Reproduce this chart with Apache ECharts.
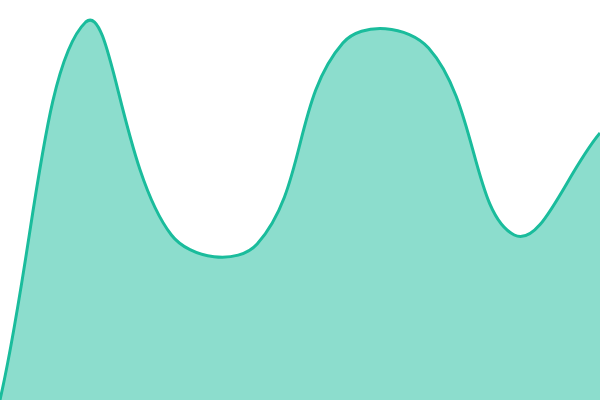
<!DOCTYPE html>
<html>
<head>
<meta charset="utf-8">
<script src="https://cdn.jsdelivr.net/npm/echarts@6/dist/echarts.min.js"></script>
<style>
  html, body { margin: 0; padding: 0; background: #fff; }
  #chartArea { width: 600px; height: 400px; }
</style>
</head>
<body>
<div id="chartArea"></div>
<script>
var categories = ['1', '2', '3', '4', '5', '6', '7', '8'];
var values = [0, 94.5, 41.25, 39, 89.25, 88, 41.25, 66.75];

var lineColor = '#1abc9c';
var fillColor = 'rgba(26,188,156,0.5)';
var tension = 0.4;

// spline control points, weighted by segment length (tension style curve)
function _controlPoints(pts, area) {
    var cps = [];
    for (var i = 0; i < pts.length; i++) {
        var prev = pts[i - 1] || pts[i];
        var cur = pts[i];
        var next = pts[i + 1] || pts[i];
        var d01 = Math.hypot(cur[0] - prev[0], cur[1] - prev[1]);
        var d12 = Math.hypot(next[0] - cur[0], next[1] - cur[1]);
        var s01 = d01 / (d01 + d12) || 0;
        var s12 = d12 / (d01 + d12) || 0;
        var fa = tension * s01, fb = tension * s12;
        var dx = next[0] - prev[0], dy = next[1] - prev[1];
        cps.push({
            prev: _cap([cur[0] - fa * dx, cur[1] - fa * dy], area),
            next: _cap([cur[0] + fb * dx, cur[1] + fb * dy], area)
        });
    }
    return cps;
}
function _cap(p, area) {
    return [
        Math.min(Math.max(p[0], area.x), area.x + area.width),
        Math.min(Math.max(p[1], area.y), area.y + area.height)
    ];
}
function _curvePath(pts, area) {
    var cps = _controlPoints(pts, area);
    var d = 'M' + pts[0][0] + ',' + pts[0][1];
    for (var i = 1; i < pts.length; i++) {
        var c1 = cps[i - 1].next, c2 = cps[i].prev;
        d += 'C' + c1[0] + ',' + c1[1] + ',' + c2[0] + ',' + c2[1] + ',' + pts[i][0] + ',' + pts[i][1];
    }
    return d;
}

var myChart = echarts.init(document.getElementById('chartArea'));
myChart.setOption({
    animation: false,
    grid: { left: 0, right: 0, top: 0, bottom: 0 },
    xAxis: {
        type: 'category',
        show: false,
        boundaryGap: false,
        data: categories
    },
    yAxis: {
        type: 'value',
        show: false,
        min: 0,
        max: 100
    },
    series: [{
        type: 'custom',
        data: values.map(function(v, i) { return [i, v]; }),
        renderItem: function(params, api) {
            if (params.dataIndex !== 0) {
                return null;
            }
            var area = params.coordSys;
            var pts = values.map(function(v, i) { return api.coord([i, v]); });
            var line = _curvePath(pts, area);
            var base = api.coord([0, 0])[1];
            var fill = line + 'L' + pts[pts.length - 1][0] + ',' + base + 'L' + pts[0][0] + ',' + base + 'Z';
            return {
                type: 'group',
                children: [{
                    type: 'path',
                    shape: { pathData: fill },
                    style: { fill: fillColor, stroke: null }
                }, {
                    type: 'path',
                    shape: { pathData: line },
                    style: { fill: null, stroke: lineColor, lineWidth: 3, lineJoin: 'round' }
                }]
            };
        }
    }]
});
</script>
</body>
</html>
